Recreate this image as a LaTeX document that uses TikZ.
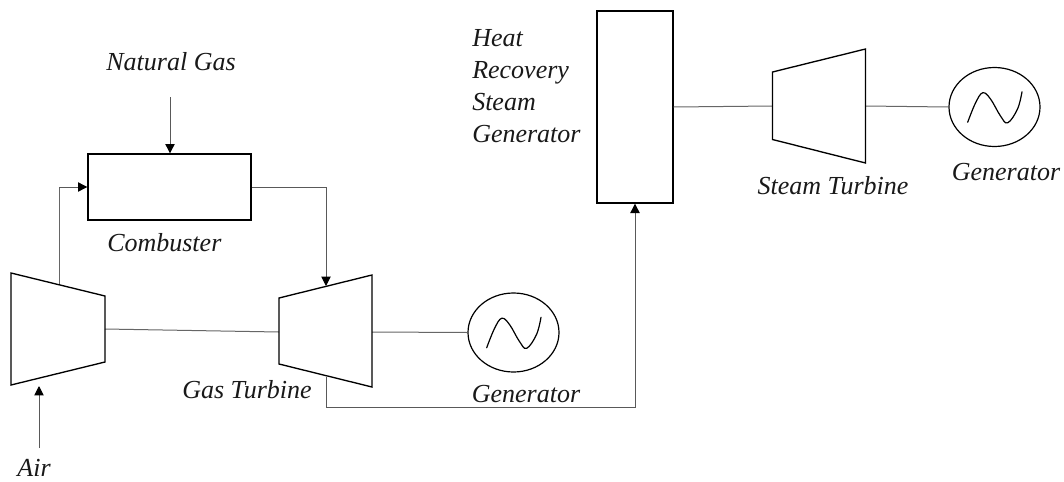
\documentclass[tikz,border=0pt]{standalone}
\usepackage{fontspec}
\setmainfont{Liberation Serif}
\usetikzlibrary{arrows.meta,shapes.geometric}
\tikzset{
  x=0.75pt,y=-0.75pt,
  outline/.style={draw=black,line width=1pt,line join=miter},
  unit/.style={outline,fill=white,rectangle,inner sep=0pt},
  genbox/.style={draw=black,line width=0.9pt,ellipse,inner sep=0pt,minimum width=68.25pt,minimum height=59.25pt},
  wire/.style={draw=black!60,line width=0.75pt},
  flow/.style={draw=black!65,line width=0.72pt,-{Triangle[black,length=7pt,width=7pt]}},
  lbl/.style={font=\fontsize{19.5}{19.5}\selectfont\itshape,inner sep=0pt,text=black!90,anchor=base},
  lblw/.style={lbl,anchor=base west},
  wave/.style={draw=black,line width=0.9pt,line cap=round},
}
\begin{document}
\begin{tikzpicture}
\useasboundingbox (0,0) rectangle (1064,482);
\fill[white] (0,0) rectangle (1064,482);
% named ports
\coordinate (compIn) at (39,386);
\coordinate (compTop) at (59,285);
\coordinate (compR) at (105,329);
\coordinate (gtL) at (279,332);
\coordinate (gtR) at (372,332);
\coordinate (gtTop) at (326,286);
\coordinate (gtBot) at (326,377);
\coordinate (stL) at (772.5,106);
\coordinate (stR) at (865.5,106);
\coordinate (airStart) at (39,448);
\coordinate (gasStart) at (170,97);
% connectors under shapes
\node[unit,minimum width=122.25pt,minimum height=49.5pt] (comb) at (169.5,187) {};
\node[unit,minimum width=57pt,minimum height=144pt] (hrsg) at (635,107) {};
\node[genbox] (gen1) at (513.5,332.5) {};
\node[genbox] (gen2) at (994.5,107) {};
\draw[wire] (compTop) -- (compTop |- comb.west);
\draw[flow] (compTop |- comb.west) -- (comb.west);
\draw[flow] (comb.east) -| (gtTop);
\draw[flow] (gasStart) -- (gasStart |- comb.north);
\draw[flow] (airStart) -- (compIn);
\draw[wire] (compR) -- (gtL);
\draw[wire] (gtR) -- (gen1.west);
\draw[flow] (gtBot) |- (635,407) -- (hrsg.south);
\draw[wire] (hrsg.east) -- (stL);
\draw[wire] (stR) -- (gen2.west);
% turbomachines
\draw[outline] (11,273) -- (105,296) -- (105,362) -- (11,385) -- cycle;
\draw[outline] (279,298) -- (372,275) -- (372,387) -- (279,364) -- cycle;
\draw[outline] (772.5,72) -- (865.5,49) -- (865.5,163) -- (772.5,139.5) -- cycle;
% sine waves
\foreach \g in {gen1,gen2}{
  \draw[wave] plot[smooth,tension=0.65] coordinates {
    ([shift={(-26.8,15.2)}]\g.center) ([shift={(-19,-4)}]\g.center) ([shift={(-11.8,-14.2)}]\g.center)
    ([shift={(-4,-8)}]\g.center) ([shift={(6,9)}]\g.center) ([shift={(13.2,15.8)}]\g.center)
    ([shift={(23,2)}]\g.center) ([shift={(27.5,-15.2)}]\g.center)};
}
% labels
\node[lbl] (lgas) at (171,70) {Natural Gas};
\node[lblw] (lcomb) at (107,251) {Combuster};
\node[lbl] (lair) at (34,476) {Air};
\node[lbl] (lgt) at (247,398) {Gas Turbine};
\node[lbl] (lg1) at (526,402) {Generator};
\node[lblw] (lh1) at (472,46) {Heat};
\node[lblw] (lh2) at (472,78) {Recovery};
\node[lblw] (lh3) at (472,110) {Steam};
\node[lblw] (lh4) at (472,142) {Generator};
\node[lbl] (lst) at (833,194) {Steam Turbine};
\node[lbl] (lg2) at (1006,180) {Generator};
\end{tikzpicture}
\end{document}
